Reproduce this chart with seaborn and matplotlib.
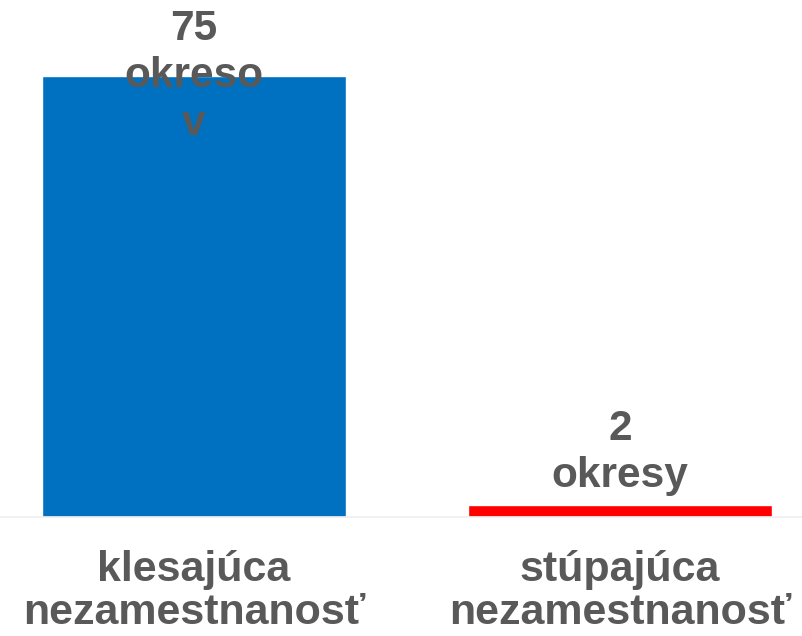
import matplotlib
matplotlib.use("Agg")
import matplotlib.pyplot as plt
import seaborn as sns
import pandas as pd

categories = ["klesajúca\nnezamestnanosť", "stúpajúca\nnezamestnanosť"]
values = [75, 2]
value_labels = ["75\nokreso\nv", "2\nokresy"]
colors = ["#0070C0", "#FF0000"]

sns.set_theme(style="white")
plt.rcParams['font.family'] = ['Liberation Sans', 'DejaVu Sans']

df = pd.DataFrame({"cat": categories, "val": values})

fig = plt.figure(figsize=(8.03, 6.36), dpi=100)
ax = fig.add_axes([0, (636 - 517) / 636, 1, 517 / 636])
sns.barplot(data=df, x="cat", y="val", hue="cat", palette=colors, width=0.714,
            legend=False, ax=ax, saturation=1)

ax.set_xlim(-194 / 426, (803 - 194) / 426)
ax.set_ylim(0, 517 / 5.88)

for s in ["top", "left", "right"]:
    ax.spines[s].set_visible(False)
ax.spines["bottom"].set_color("#EFEFEF")
ax.spines["bottom"].set_linewidth(1.2)
ax.set_yticks([])
ax.set_xlabel("")
ax.set_ylabel("")
ax.tick_params(axis="x", length=0, pad=24)
for t in ax.get_xticklabels():
    t.set_fontsize(31)
    t.set_fontweight("bold")
    t.set_color("#595959")
    t.set_linespacing(1.1)

offsets = [(0, 67), (0, 9)]
for i, (v, lab) in enumerate(zip(values, value_labels)):
    ax.annotate(lab, xy=(i, v), xytext=(offsets[i][0], offsets[i][1] * 0.72),
                textcoords="offset points", ha="center",
                va="top" if i == 0 else "bottom",
                fontsize=30.5, fontweight="bold", color="#595959", linespacing=1.24)

fig.savefig("out.png", dpi=100)
